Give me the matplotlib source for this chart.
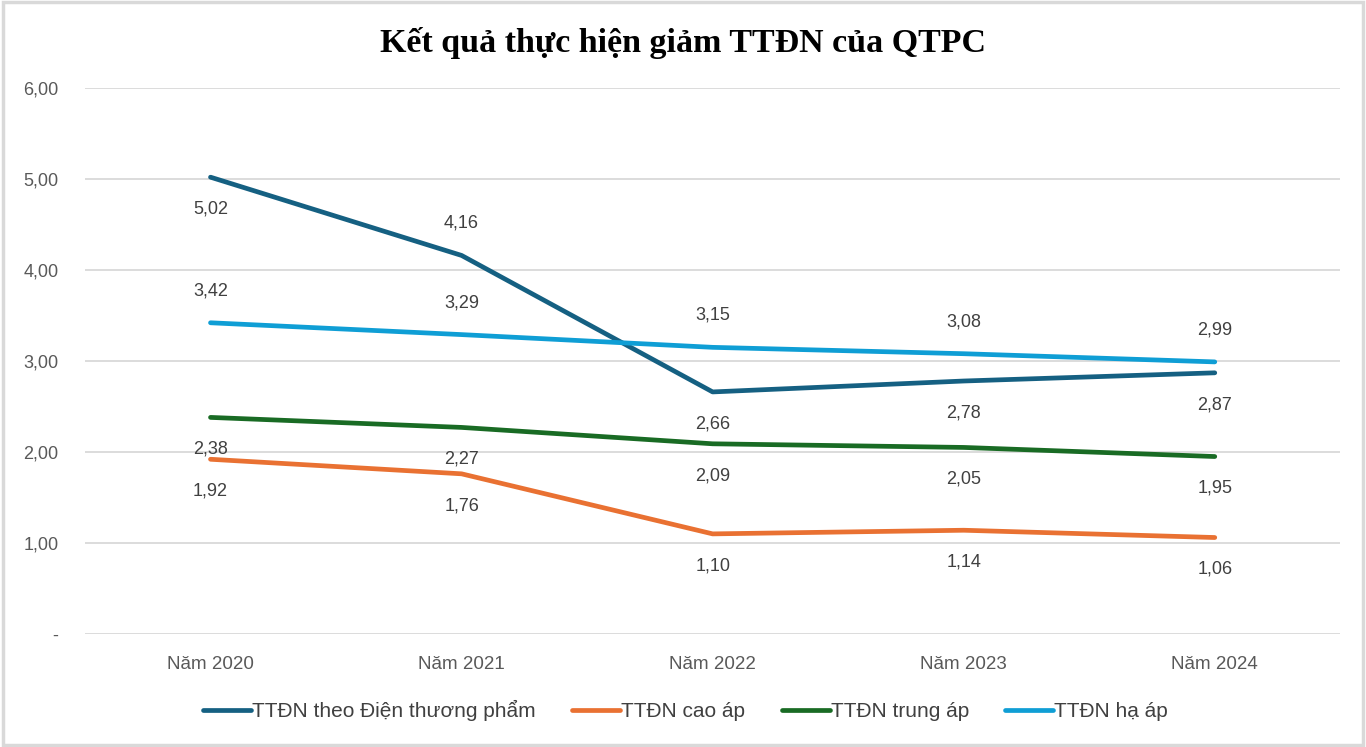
import matplotlib.pyplot as plt
from matplotlib.patches import Rectangle

# Dữ liệu
years = ["Năm 2020", "Năm 2021", "Năm 2022", "Năm 2023", "Năm 2024"]
ttdn_dtp = [5.02, 4.16, 2.66, 2.78, 2.87]
ttdn_cao = [1.92, 1.76, 1.10, 1.14, 1.06]
ttdn_trung = [2.38, 2.27, 2.09, 2.05, 1.95]
ttdn_ha = [3.42, 3.29, 3.15, 3.08, 2.99]

series = [
    ("TTĐN theo Điện thương phẩm", ttdn_dtp, "#156082", [-1, 1, -1, -1, -1]),
    ("TTĐN cao áp", ttdn_cao, "#E97132", [-1, -1, -1, -1, -1]),
    ("TTĐN trung áp", ttdn_trung, "#196B24", [-1, -1, -1, -1, -1]),
    ("TTĐN hạ áp", ttdn_ha, "#0F9ED5", [1, 1, 1, 1, 1]),
]

plt.rcParams["font.family"] = ["Liberation Sans", "DejaVu Sans"]

fig = plt.figure(figsize=(13.66, 7.47), dpi=100)
ax = fig.add_axes([0.0622, 0.1513, 0.919, 0.7309])

x = list(range(len(years)))
for name, vals, color, pos in series:
    ax.plot(x, vals, color=color, linewidth=3.4, label=name,
            solid_capstyle="round", solid_joinstyle="round", zorder=3)
    for xi, v, p in zip(x, vals, pos):
        ax.annotate(f"{v:.2f}".replace(".", ","), (xi, v),
                    xytext=(0, 23 * p), textcoords="offset points",
                    ha="center", va="center", fontsize=13, color="#404040")

ax.set_xlim(-0.5, 4.5)
ax.set_ylim(0, 6)
ax.set_yticks([0, 1, 2, 3, 4, 5, 6])
ax.set_yticklabels(["-", "1,00", "2,00", "3,00", "4,00", "5,00", "6,00"])
ax.set_xticks(x)
ax.set_xticklabels(years)
for lbl in ax.get_xticklabels() + ax.get_yticklabels():
    lbl.set_fontsize(13)
    lbl.set_color("#595959")
for lbl in ax.get_xticklabels():
    lbl.set_fontsize(13.5)
ax.tick_params(axis="both", length=0)
ax.tick_params(axis="y", pad=19)
ax.tick_params(axis="x", pad=16)
ax.grid(axis="y", color="#D9D9D9", linewidth=1.3)
ax.set_axisbelow(True)
for s in ax.spines.values():
    s.set_visible(False)

fig.text(0.5, 0.942, "Kết quả thực hiện giảm TTĐN của QTPC",
         ha="center", va="center", fontsize=24.5, fontweight="bold",
         family=["Liberation Serif", "DejaVu Serif"])

fig.legend(loc="center", bbox_to_anchor=(0.502, 0.049), ncol=4, frameon=False,
           prop={"size": 15}, handlelength=2.3,
           handletextpad=0.05, columnspacing=1.75, labelcolor="#404040")

fig.patches.append(Rectangle((0.002, 0.003), 0.996, 0.994, transform=fig.transFigure,
                             fill=False, edgecolor="#D9D9D9", linewidth=2.5))

fig.savefig("out.png", dpi=100, facecolor="white")
